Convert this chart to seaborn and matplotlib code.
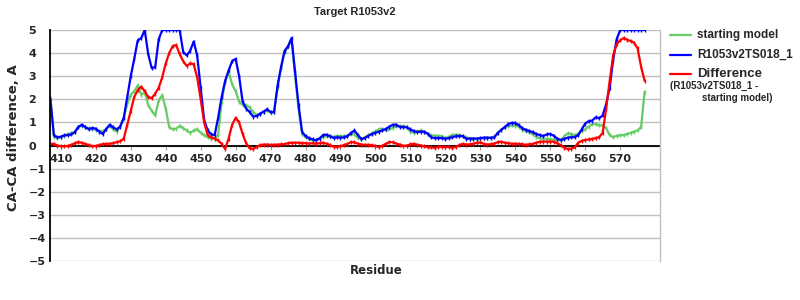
import numpy as np
import pandas as pd
import matplotlib
matplotlib.use("Agg")
import matplotlib.pyplot as plt
from matplotlib.lines import Line2D
import seaborn as sns

# ---------------- data ----------------
residues = list(range(407, 578))

model_ts018 = [
    2.05, 0.45, 0.35,
    0.38, 0.44, 0.45, 0.48, 0.58, 0.80, 0.90, 0.80, 0.70, 0.76,
    0.73, 0.60, 0.50, 0.72, 0.90, 0.78, 0.70, 0.82, 1.20, 2.10,
    3.00, 3.75, 4.55, 4.65, 5.00, 3.95, 3.35, 3.40, 4.60, 5.00,
    5.00, 5.00, 5.00, 5.00, 5.00, 4.05, 3.90, 4.10, 4.50, 3.90,
    2.50, 1.10, 0.65, 0.48, 0.45, 1.20, 2.10, 2.80, 3.25, 3.65,
    3.75, 3.00, 1.90, 1.60, 1.45, 1.25, 1.28, 1.38, 1.47, 1.57,
    1.45, 1.45, 2.60, 3.40, 4.10, 4.30, 4.65, 3.20, 1.75, 0.60,
    0.40, 0.32, 0.27, 0.22, 0.30, 0.45, 0.47, 0.40, 0.33, 0.35,
    0.34, 0.35, 0.40, 0.55, 0.65, 0.45, 0.27, 0.33, 0.42, 0.50,
    0.55, 0.60, 0.65, 0.72, 0.82, 0.90, 0.90, 0.80, 0.80, 0.78,
    0.70, 0.62, 0.58, 0.60, 0.60, 0.50, 0.35, 0.32, 0.32, 0.32,
    0.29, 0.32, 0.36, 0.40, 0.41, 0.40, 0.29, 0.30, 0.30, 0.30,
    0.32, 0.34, 0.34, 0.33, 0.35, 0.55, 0.68, 0.80, 0.93, 0.98,
    0.97, 0.88, 0.75, 0.68, 0.63, 0.58, 0.50, 0.45, 0.41, 0.48,
    0.50, 0.42, 0.30, 0.24, 0.28, 0.34, 0.36, 0.36, 0.45, 0.70,
    0.95, 1.05, 1.08, 1.22, 1.18, 1.30, 1.80, 2.50, 3.70, 4.60,
    5.00, 5.00, 5.00, 5.00, 5.00, 5.00, 5.00, 5.00,
]

starting_model = [
    1.98, 0.38, 0.33,
    0.36, 0.42, 0.50, 0.52, 0.60, 0.82, 0.85, 0.80, 0.75, 0.73,
    0.68, 0.62, 0.62, 0.72, 0.85, 0.70, 0.60, 0.85, 1.20, 1.80,
    2.20, 2.35, 2.60, 2.20, 2.30, 1.75, 1.50, 1.30, 1.95, 2.18,
    1.60, 0.80, 0.70, 0.73, 0.85, 0.75, 0.65, 0.55, 0.65, 0.70,
    0.55, 0.45, 0.36, 0.30, 0.30, 0.45, 1.90, 2.75, 3.20, 2.65,
    2.35, 1.90, 1.75, 1.75, 1.65, 1.45, 1.32, 1.35, 1.45, 1.52,
    1.42, 1.45, 2.50, 3.35, 4.05, 4.25, 4.60, 3.00, 1.60, 0.50,
    0.36, 0.28, 0.22, 0.24, 0.32, 0.36, 0.40, 0.38, 0.38, 0.41,
    0.41, 0.41, 0.42, 0.50, 0.48, 0.32, 0.30, 0.35, 0.45, 0.52,
    0.62, 0.70, 0.73, 0.66, 0.70, 0.77, 0.84, 0.84, 0.84, 0.80,
    0.60, 0.55, 0.62, 0.65, 0.58, 0.50, 0.44, 0.43, 0.42, 0.40,
    0.32, 0.38, 0.46, 0.47, 0.46, 0.40, 0.36, 0.30, 0.27, 0.28,
    0.30, 0.31, 0.32, 0.34, 0.38, 0.55, 0.68, 0.80, 0.84, 0.87,
    0.86, 0.82, 0.68, 0.62, 0.58, 0.48, 0.37, 0.32, 0.29, 0.29,
    0.28, 0.24, 0.22, 0.22, 0.40, 0.52, 0.50, 0.45, 0.50, 0.62,
    0.70, 0.82, 0.92, 0.93, 0.87, 0.87, 0.75, 0.45, 0.36, 0.42,
    0.44, 0.45, 0.50, 0.55, 0.60, 0.66, 0.80, 2.33,
]

difference = [
    0.07, 0.07, 0.00,
    -0.03, -0.03, -0.02, 0.03, 0.10, 0.15, 0.12, 0.07, 0.02, -0.03,
    -0.02, 0.02, 0.06, 0.07, 0.08, 0.10, 0.15, 0.18, 0.30, 0.90,
    1.50, 2.10, 2.40, 2.55, 2.35, 2.10, 2.05, 2.25, 2.50, 2.95,
    3.55, 4.00, 4.30, 4.35, 3.95, 3.65, 3.45, 3.55, 3.52, 2.95,
    2.00, 1.00, 0.45, 0.36, 0.30, 0.22, 0.07, -0.15, 0.30, 0.90,
    1.20, 1.00, 0.50, 0.10, -0.12, -0.15, -0.07, 0.02, 0.04, 0.04,
    0.03, 0.03, 0.04, 0.05, 0.06, 0.10, 0.12, 0.12, 0.12, 0.10,
    0.10, 0.08, 0.10, 0.08, 0.10, 0.12, 0.08, 0.02, -0.05, -0.06,
    -0.03, 0.02, 0.07, 0.15, 0.13, 0.08, 0.04, 0.03, 0.03, 0.01,
    -0.02, -0.07, -0.01, 0.08, 0.15, 0.14, 0.08, 0.04, -0.02, 0.00,
    0.05, 0.07, 0.03, 0.00, -0.04, -0.07, -0.08, -0.10, -0.06, -0.05,
    -0.07, -0.06, -0.10, -0.06, 0.02, 0.07, 0.04, 0.05, 0.07, 0.12,
    0.13, 0.07, 0.04, 0.06, 0.08, 0.15, 0.16, 0.12, 0.10, 0.07,
    0.08, 0.07, 0.05, 0.03, 0.05, 0.07, 0.12, 0.16, 0.17, 0.17,
    0.17, 0.16, 0.10, 0.02, -0.10, -0.15, -0.14, -0.08, 0.12, 0.20,
    0.24, 0.26, 0.28, 0.32, 0.36, 0.55, 1.60, 2.80, 3.90, 4.40,
    4.55, 4.65, 4.58, 4.52, 4.45, 4.20, 3.40, 2.80,
]

x_ticks = list(range(410, 580, 10))
y_ticks = list(range(-5, 6))

series_names = ["starting model", "R1053v2TS018_1", "Difference"]
series_colors = ["#66cc66", "#0000ff", "#ff0000"]

# ---------------- plot ----------------
sns.set_style("white")
plt.rcParams["font.family"] = ["DejaVu Sans"]

fig = plt.figure(figsize=(8, 3), dpi=100)
ax = fig.add_axes([50 / 800, 1 - 261 / 300, 610 / 800, 231 / 300])

df = pd.DataFrame({
    "Residue": residues * 3,
    "value": starting_model + model_ts018 + difference,
    "series": sum([[n] * len(residues) for n in series_names], []),
})

for name, col in zip(series_names, series_colors):
    sub = df[df["series"] == name]
    sns.lineplot(data=sub, x="Residue", y="value", ax=ax, color=col,
                 linewidth=1.6, marker="|", markersize=3,
                 markeredgewidth=1.0, markeredgecolor=col, legend=False)

ax.set_xlim(406.9, 581.4)
ax.set_ylim(-5, 5)
ax.set_yticks(y_ticks)
ax.set_xticks(x_ticks)
ax.yaxis.grid(True, color="#c0c0c0", linewidth=1.0)
ax.xaxis.grid(False)
ax.set_axisbelow(True)

ax.spines["bottom"].set_position(("data", 0))
ax.spines["bottom"].set_color("black")
ax.spines["bottom"].set_linewidth(1.3)
ax.spines["bottom"].set_zorder(1.5)
ax.spines["left"].set_color("black")
ax.spines["left"].set_linewidth(1.3)
ax.spines["top"].set_visible(False)
ax.spines["right"].set_color("#c0c0c0")
ax.spines["right"].set_linewidth(1.0)

ax.tick_params(axis="x", length=3, color="#a0a0a0", pad=3,
               labelsize=8, bottom=True)
ax.tick_params(axis="y", length=0, pad=15.5, labelsize=8)
for lab in ax.get_xticklabels():
    lab.set_fontweight("bold")
for lab in ax.get_yticklabels():
    lab.set_fontweight("bold")
    lab.set_horizontalalignment("left")

ax.set_xlabel("")
ax.set_ylabel("")

fig.text(355 / 800, 1 - 12 / 300, "Target R1053v2", ha="center", va="center",
         fontsize=8, fontweight="bold", family=["Liberation Sans"])
fig.text(376 / 800, 1 - 271 / 300, "Residue", ha="center", va="center",
         fontsize=8.5, fontweight="bold")
fig.text(14 / 800, 1 - 138 / 300, "CA-CA difference, A", ha="center",
         va="center", rotation=90, fontsize=9.5, fontweight="bold")

# legend (manual)
leg_rows = [35, 55, 74]
leg_sizes = [8.5, 8.5, 9.5]
for name, col, yy, fs in zip(series_names, series_colors, leg_rows, leg_sizes):
    ln = Line2D([670 / 800, 691 / 800], [1 - yy / 300, 1 - yy / 300],
                transform=fig.transFigure, color=col, linewidth=1.6)
    fig.add_artist(ln)
    fig.text(697 / 800, 1 - yy / 300, name, ha="left", va="center",
             fontsize=fs, fontweight="bold", family=["Liberation Sans"])
fig.text(670 / 800, 1 - 86 / 300, "(R1053v2TS018_1 -", ha="left",
         va="center", fontsize=7, fontweight="bold",
         family=["Liberation Sans"])
fig.text(702 / 800, 1 - 98 / 300, "starting model)", ha="left",
         va="center", fontsize=7, fontweight="bold",
         family=["Liberation Sans"])

fig.savefig("out.png", dpi=100)
